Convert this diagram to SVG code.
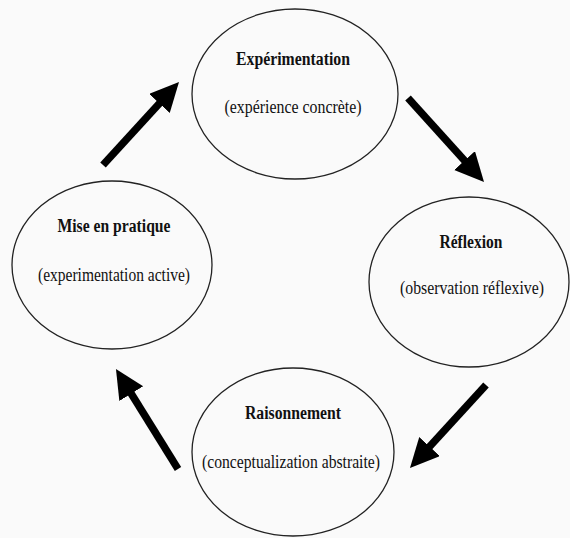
<svg xmlns="http://www.w3.org/2000/svg" width="570" height="538" viewBox="0 0 570 538">
<style>
.node ellipse{fill:none;stroke:#222;stroke-width:1.3}
.t{font-family:"Liberation Serif","Times New Roman",serif;font-size:18px;font-weight:bold;fill:#111;text-anchor:middle}
.s{font-family:"Liberation Serif","Times New Roman",serif;font-size:18px;fill:#111;text-anchor:middle}
.arr line{stroke:#000;stroke-width:7.5;marker-end:url(#ah)}
</style>
<defs>
<marker id="ah" markerUnits="userSpaceOnUse" markerWidth="30" markerHeight="30" refX="9" refY="14" orient="auto">
<path d="M0,0 L29,14 L0,28 z" fill="#000"/>
</marker>
</defs>
<rect width="570" height="538" fill="#fafafa"/>
<g id="experimentation" class="node">
<ellipse cx="295" cy="94" rx="103" ry="85"/>
<text class="t" x="293" y="65" textLength="114" lengthAdjust="spacingAndGlyphs">Expérimentation</text>
<text class="s" x="293" y="113" textLength="137" lengthAdjust="spacingAndGlyphs">(expérience concrète)</text>
</g>
<g id="reflexion" class="node">
<ellipse cx="469" cy="282" rx="100" ry="85"/>
<text class="t" x="471" y="248" textLength="63" lengthAdjust="spacingAndGlyphs">Réflexion</text>
<text class="s" x="472" y="294" textLength="144" lengthAdjust="spacingAndGlyphs">(observation réflexive)</text>
</g>
<g id="raisonnement" class="node">
<ellipse cx="293" cy="452" rx="101" ry="84"/>
<text class="t" x="293" y="419" textLength="96" lengthAdjust="spacingAndGlyphs">Raisonnement</text>
<text class="s" x="291" y="468" textLength="178" lengthAdjust="spacingAndGlyphs">(conceptualization abstraite)</text>
</g>
<g id="pratique" class="node">
<ellipse cx="112" cy="265" rx="100" ry="84"/>
<text class="t" x="114" y="232" textLength="113" lengthAdjust="spacingAndGlyphs">Mise en pratique</text>
<text class="s" x="114" y="281" textLength="152" lengthAdjust="spacingAndGlyphs">(experimentation active)</text>
</g>
<g id="connectors" class="arr">
<line x1="103" y1="165" x2="165.5" y2="96.8"/>
<line x1="408" y1="98" x2="470.6" y2="167.2"/>
<line x1="486" y1="385" x2="423.5" y2="453.2"/>
<line x1="178" y1="469" x2="126.5" y2="386"/>
</g>
</svg>
